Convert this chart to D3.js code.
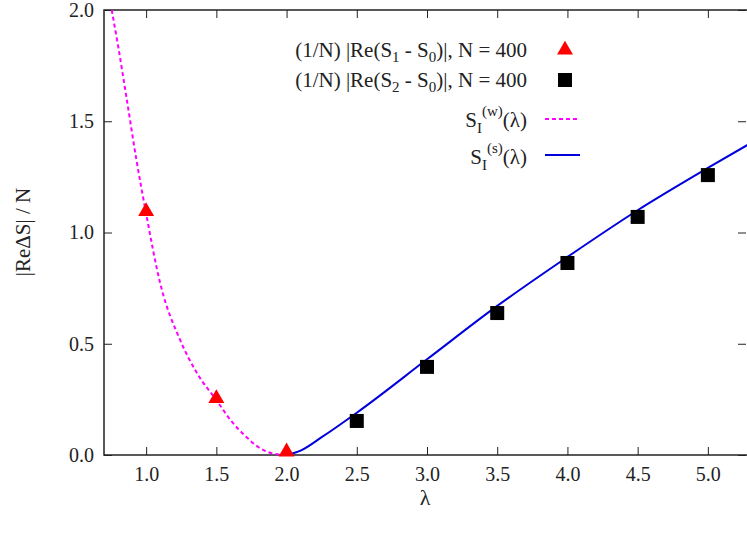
<!DOCTYPE html>
<html><head><meta charset="utf-8">
<script src="https://cdn.jsdelivr.net/npm/d3@7"></script>
<style>body{margin:0;background:#fff}</style>
</head><body><svg id="c" width="747" height="533" style="font-family:'Liberation Serif','DejaVu Serif',serif"></svg>
<script>
// values
var weakLam = [0.755, 0.8, 0.863, 0.93, 1.0, 1.1, 1.242, 1.37, 1.5, 1.61, 1.712, 1.8, 1.9, 2.0];
var weakS   = [2.0, 1.84, 1.595, 1.33, 1.085, 0.772, 0.517, 0.36, 0.247, 0.15, 0.082, 0.035, 0.007, 0.0];
var strongLam = [2.0, 2.1, 2.25, 2.5, 3.0, 3.5, 4.0, 4.5, 5.0, 5.3];
var strongS   = [0.0, 0.02, 0.08, 0.19, 0.43, 0.67, 0.89, 1.10, 1.29, 1.40];
var triLam = [1.0, 1.5, 2.0], triS = [1.09, 0.25, 0.01];
var sqLam = [2.5, 3.0, 3.5, 4.0, 4.5, 5.0], sqS = [0.153, 0.396, 0.638, 0.863, 1.07, 1.258];
var xTicks = [1.0, 1.5, 2.0, 2.5, 3.0, 3.5, 4.0, 4.5, 5.0];
var yTicks = [0.0, 0.5, 1.0, 1.5, 2.0];

var serif = "'Liberation Serif','DejaVu Serif',serif";
var svg = d3.select("#c");
var x = d3.scaleLinear().domain([0.7, 5.3]).range([104, 750]);
var y = d3.scaleLinear().domain([0, 2]).range([455, 10]);

svg.append("rect").attr("x", 104).attr("y", 10).attr("width", 646).attr("height", 445)
  .attr("fill", "none").attr("stroke", "#222").attr("stroke-width", 1.5);

svg.append("g").attr("transform", "translate(0,455)")
  .call(d3.axisBottom(x).tickValues(xTicks).tickFormat(d3.format(".1f")).tickSize(-8).tickPadding(12))
  .call(g => g.select(".domain").remove());
svg.append("g").attr("transform", "translate(0,10)")
  .call(d3.axisTop(x).tickValues(xTicks).tickFormat("").tickSize(-8))
  .call(g => g.select(".domain").remove());
svg.append("g").attr("transform", "translate(104,0)")
  .call(d3.axisLeft(y).tickValues(yTicks).tickFormat(d3.format(".1f")).tickSize(-8).tickPadding(10))
  .call(g => g.select(".domain").remove());
svg.append("g").attr("transform", "translate(746,0)")
  .call(d3.axisRight(y).tickValues(yTicks).tickFormat("").tickSize(-8))
  .call(g => g.select(".domain").remove());
svg.selectAll(".tick text").style("font-size", "20px").style("font-family", serif).attr("fill", "#222");
svg.selectAll(".tick line").attr("stroke", "#222");

var line = d3.line().curve(d3.curveMonotoneX).x(d => x(d[0])).y(d => y(d[1]));
svg.append("path").datum(d3.zip(weakLam, weakS)).attr("d", line)
  .attr("fill", "none").attr("stroke", "#ff00ff").attr("stroke-width", 2).attr("stroke-dasharray", "4,3");
svg.append("path").datum(d3.zip(strongLam, strongS)).attr("d", line)
  .attr("fill", "none").attr("stroke", "#0000dd").attr("stroke-width", 2);

var tri = d3.symbol().type(d3.symbolTriangle).size(110);
svg.selectAll(".tri").data(d3.zip(triLam, triS)).join("path")
  .attr("d", tri).attr("fill", "#ff0000")
  .attr("transform", d => "translate(" + x(d[0]) + "," + (y(d[1]) - 1) + ")");
svg.selectAll(".sq").data(d3.zip(sqLam, sqS)).join("rect")
  .attr("x", d => x(d[0]) - 7).attr("y", d => y(d[1]) - 7).attr("width", 14).attr("height", 14).attr("fill", "#000");

// legend
var lg = svg.append("g");
function row(yy, parts) {
  var t = lg.append("text").attr("x", 527).attr("y", yy).attr("text-anchor", "end")
    .style("font-family", serif).style("font-size", "21px").attr("fill", "#222");
  parts.forEach(p => {
    var s = t.append("tspan").text(p[0]).style("font-size", p[2] ? "15px" : "21px");
    if (p[1]) s.attr("dy", p[1]);
  });
}
row(57, [["(1/N) |Re(S"], ["1", 5, 1], [" - S", -5], ["0", 5, 1], [")|, N = 400", -5]]);
row(87, [["(1/N) |Re(S"], ["2", 5, 1], [" - S", -5], ["0", 5, 1], [")|, N = 400", -5]]);
row(127, [["S"], ["I", 6, 1], ["(w)", -17, 1], ["(λ)", 11]]);
row(164, [["S"], ["I", 6, 1], ["(s)", -17, 1], ["(λ)", 11]]);
lg.append("path").attr("d", tri).attr("fill", "#ff0000").attr("transform", "translate(565,50)");
lg.append("rect").attr("x", 558).attr("y", 73).attr("width", 14).attr("height", 14).attr("fill", "#000");
lg.append("line").attr("x1", 545).attr("x2", 580).attr("y1", 119).attr("y2", 119)
  .attr("stroke", "#ff00ff").attr("stroke-width", 2).attr("stroke-dasharray", "4,3");
lg.append("line").attr("x1", 545).attr("x2", 580).attr("y1", 155).attr("y2", 155)
  .attr("stroke", "#0000dd").attr("stroke-width", 2);

svg.append("text").attr("x", 425).attr("y", 505).attr("text-anchor", "middle")
  .style("font-family", serif).style("font-size", "22px").attr("fill", "#222").text("λ");
svg.append("text").attr("transform", "translate(30,232) rotate(-90)").attr("text-anchor", "middle")
  .style("font-family", serif).style("font-size", "21px").attr("fill", "#222").text("|ReΔS| / N");
</script></body></html>
